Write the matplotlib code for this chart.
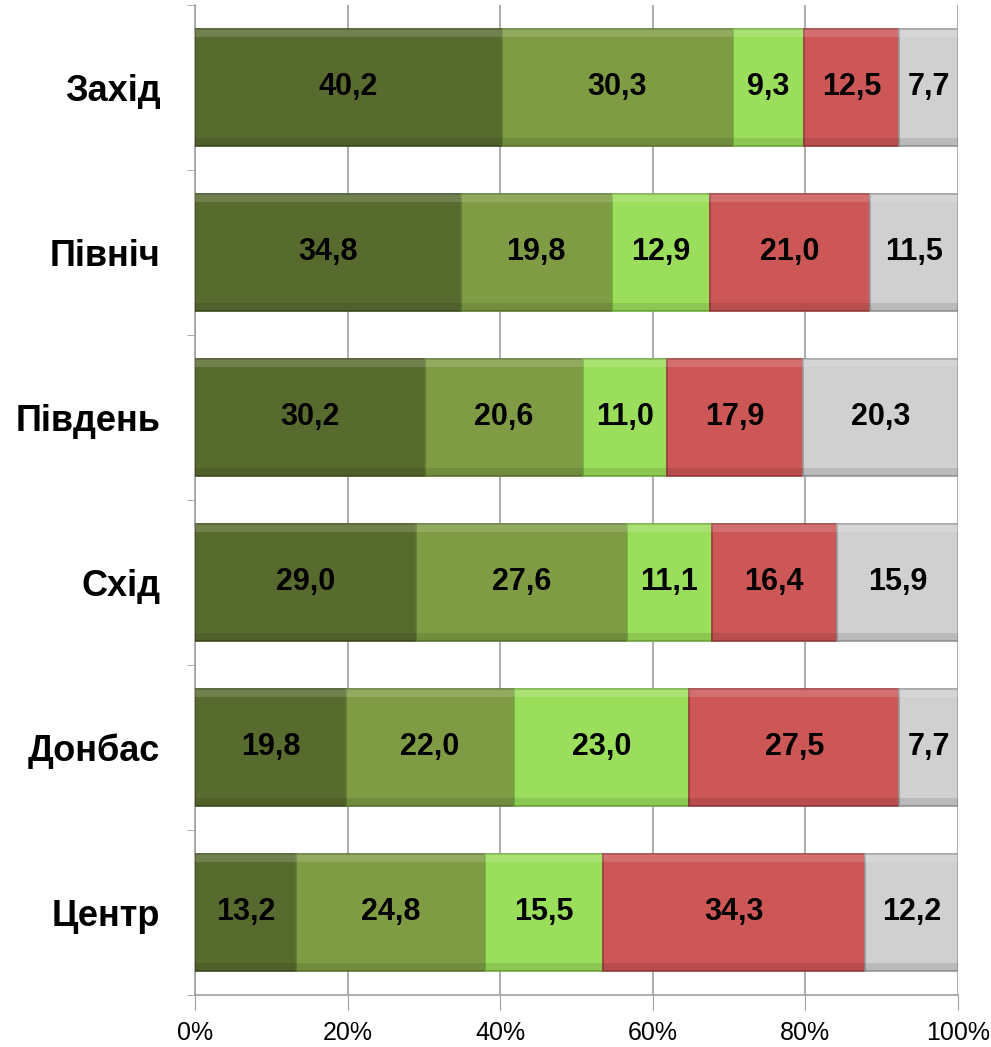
import matplotlib.pyplot as plt
import numpy as np

regions = ["Захід", "Північ", "Південь", "Схід", "Донбас", "Центр"]
s1 = [40.2, 34.8, 30.2, 29.0, 19.8, 13.2]
s2 = [30.3, 19.8, 20.6, 27.6, 22.0, 24.8]
s3 = [9.3, 12.9, 11.0, 11.1, 23.0, 15.5]
s4 = [12.5, 21.0, 17.9, 16.4, 27.5, 34.3]
s5 = [7.7, 11.5, 20.3, 15.9, 7.7, 12.2]
series = [s1, s2, s3, s4, s5]
colors = ["#586b2f", "#7f9c44", "#9bde5b", "#cd5656", "#d0d0d0"]
edges = ["#3e4d1f", "#5f7832", "#72ad3e", "#9b3c3c", "#9a9a9a"]
xticks = [0, 20, 40, 60, 80, 100]

plt.rcParams['font.family'] = ['Liberation Sans', 'DejaVu Sans']

fig = plt.figure(figsize=(9.91, 10.47), dpi=100)
ax = fig.add_axes([0.1968, 0.0497, 0.7699, 0.9456])

y = np.arange(len(regions))
left = np.zeros(len(regions))
for vals, c, ec in zip(series, colors, edges):
    vals = np.array(vals)
    bars = ax.barh(y, vals, left=left, height=0.71, color=c, edgecolor=ec,
                   linewidth=1.2, zorder=3)
    # bevel: light strip on top, dark strip at bottom
    ax.barh(y - 0.355 + 0.025, vals, left=left, height=0.05, color="white",
            alpha=0.15, linewidth=0, zorder=4)
    ax.barh(y + 0.355 - 0.025, vals, left=left, height=0.05, color="black",
            alpha=0.10, linewidth=0, zorder=4)
    for b, v in zip(bars, vals):
        ax.text(b.get_x() + b.get_width() / 2, b.get_y() + b.get_height() / 2,
                f"{v:.1f}".replace(".", ","), ha="center", va="center",
                fontsize=22, fontweight="bold", color="black", zorder=5)
    left = left + vals

ax.set_xlim(0, 100)
ax.set_ylim(len(regions) - 0.5, -0.5)
ax.set_xticks(xticks)
ax.set_xticklabels([f"{t}%" for t in xticks], fontsize=18)
ax.set_yticks(y)
ax.set_yticklabels(regions, fontsize=26, fontweight="bold")
ax.set_yticks(np.arange(len(regions) + 1) - 0.5, minor=True)
ax.tick_params(axis="y", which="major", length=0, pad=25)
ax.tick_params(axis="y", which="minor", length=6, color="#a0a0a0", direction="out")
ax.tick_params(axis="x", length=11, color="#a0a0a0", direction="out", pad=8)

ax.xaxis.grid(True, color="#a0a0a0", linewidth=1.2, zorder=0)
for s in ["top", "right"]:
    ax.spines[s].set_visible(False)
for s in ["left", "bottom"]:
    ax.spines[s].set_color("#a0a0a0")
    ax.spines[s].set_linewidth(1.2)

fig.savefig("out.png", dpi=100)
